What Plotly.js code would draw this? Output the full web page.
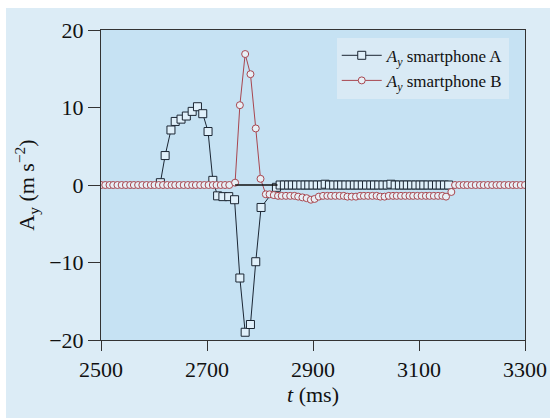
<!DOCTYPE html>
<html>
<head>
<meta charset="utf-8">
<script src="https://cdn.plot.ly/plotly-3.0.1.min.js"></script>
<style>
html,body{margin:0;padding:0;background:#ffffff;width:550px;height:418px;overflow:hidden;}
#chart{position:absolute;left:6px;top:8px;width:544px;height:410px;}
</style>
</head>
<body>
<div id="chart"></div>
<script>
// Smartphone A (squares)
const tA = [2612, 2621, 2632, 2640, 2651, 2661, 2672, 2682, 2692, 2702,
            2711, 2720, 2730, 2741, 2752, 2762, 2772, 2782, 2792, 2802,
            2831, 2838, 2846, 2854, 2861, 2869, 2877, 2885, 2892, 2900,
            2908, 2916, 2923, 2931, 2939, 2947, 2954, 2962, 2970, 2978,
            2985, 2993, 3001, 3009, 3016, 3024, 3032, 3040, 3047, 3055,
            3063, 3071, 3078, 3086, 3094, 3102, 3109, 3117, 3125, 3133,
            3140, 3148, 3156];
const aA = [0.3, 3.8, 7.1, 8.2, 8.5, 8.9, 9.5, 10.1, 9.2, 6.9,
            0.6, -1.4, -1.5, -1.5, -1.9, -12.0, -19.0, -18.0, -9.9, -2.9,
            -0.3, 0, 0, 0, 0, 0, 0, 0, 0, 0,
            0, 0, 0.1, 0, 0, 0, 0, 0, 0, 0,
            0, 0, 0, 0, 0, 0, 0, 0, 0.1, 0,
            0, 0, 0, 0, 0, 0, 0, 0, 0, 0,
            0, 0, 0];

// Smartphone B (circles)
const tB = [2500, 2508, 2516, 2523, 2531, 2539, 2547, 2555, 2562, 2570,
            2578, 2586, 2594, 2601, 2609, 2617, 2625, 2633, 2640, 2648,
            2656, 2664, 2672, 2679, 2687, 2695, 2703, 2711, 2718, 2726,
            2734, 2742, 2753, 2762, 2772, 2782, 2792, 2801, 2811, 2818,
            2826, 2834, 2841, 2849, 2857, 2865, 2872, 2880, 2888, 2896,
            2903, 2911, 2919, 2927, 2934, 2942, 2950, 2958, 2965, 2973,
            2981, 2989, 2996, 3004, 3012, 3020, 3027, 3035, 3043, 3051,
            3058, 3066, 3074, 3082, 3089, 3097, 3105, 3113, 3120, 3128,
            3136, 3144, 3151, 3161, 3168, 3176, 3184, 3191, 3199, 3207,
            3215, 3222, 3230, 3238, 3246, 3253, 3261, 3269, 3277, 3284,
            3292, 3300];
const aB = [0, 0, 0, 0, 0, 0, 0, 0, 0, 0,
            0, 0, 0, 0, 0, 0, 0, 0, 0, 0,
            0, 0, 0, 0, 0, 0, 0, 0, 0, 0,
            0, 0, 0.3, 10.3, 16.9, 14.3, 7.3, 0.8, -1.2, -1.2,
            -1.3, -1.4, -1.4, -1.4, -1.4, -1.4, -1.5, -1.6, -1.7, -1.9,
            -1.8, -1.5, -1.4, -1.4, -1.4, -1.4, -1.4, -1.4, -1.5, -1.5,
            -1.5, -1.4, -1.4, -1.4, -1.4, -1.4, -1.5, -1.5, -1.4, -1.4,
            -1.4, -1.4, -1.4, -1.4, -1.4, -1.4, -1.4, -1.4, -1.4, -1.4,
            -1.4, -1.4, -1.5, -0.9, 0, 0, 0, 0, 0, 0,
            0, 0, 0, 0, 0, 0, 0, 0, 0, 0,
            0, 0];

// Black baseline segment drawn in the original
const tSeg = [2753, 2833];
const aSeg = [0, 0];

const xTicks = [2500, 2700, 2900, 3100, 3300];
const yTicks = [-20, -10, 0, 10, 20];

const serif = "'Liberation Serif', 'Times New Roman', serif";

const traces = [
  {
    x: tA, y: aA, type: 'scatter', mode: 'lines+markers',
    name: '<i>A<sub>y</sub></i> smartphone A',
    line: {color: '#1b2633', width: 1},
    marker: {symbol: 'square', size: 8, color: '#e0f0fa', line: {color: '#1b2633', width: 1}}
  },
  {
    x: tB, y: aB, type: 'scatter', mode: 'lines+markers',
    name: '<i>A<sub>y</sub></i> smartphone B',
    line: {color: '#a8464f', width: 1},
    marker: {symbol: 'circle', size: 7, color: '#e8f0f6', line: {color: '#a8464f', width: 1}}
  },
  {
    x: tSeg, y: aSeg, type: 'scatter', mode: 'lines', showlegend: false,
    line: {color: '#111111', width: 1.6}, hoverinfo: 'skip'
  }
];

const layout = {
  width: 544, height: 410,
  margin: {l: 95, r: 25, t: 22, b: 78},
  paper_bgcolor: '#dcecf6',
  plot_bgcolor: '#c6e2f3',
  font: {family: serif, size: 22, color: '#111111'},
  showlegend: true,
  legend: {
    x: 0.556, y: 0.975, xanchor: 'left', yanchor: 'top',
    bgcolor: '#d9eaf5', borderwidth: 0, itemwidth: 40,
    font: {family: serif, size: 17, color: '#111111'},
    tracegroupgap: 0
  },
  xaxis: {
    range: [2500, 3300], tickvals: xTicks, ticktext: xTicks.map(String),
    ticks: 'outside', ticklen: 10, tickwidth: 1, tickcolor: '#333333',
    showline: true, linecolor: '#333333', linewidth: 1, mirror: true,
    showgrid: false, zeroline: false,
    tickfont: {family: serif, size: 22, color: '#111111'},
    title: {text: '<i>t</i> (ms)', font: {family: serif, size: 22, color: '#111111'}, standoff: 5}
  },
  yaxis: {
    range: [-20, 20], tickvals: yTicks, ticktext: yTicks.map(v => v < 0 ? '\u2212' + Math.abs(v) : String(v)),
    ticks: 'outside', ticklen: 12, tickwidth: 1, tickcolor: '#333333',
    showline: true, linecolor: '#333333', linewidth: 1, mirror: true,
    showgrid: false, zeroline: false,
    tickfont: {family: serif, size: 22, color: '#111111'},
    title: {text: 'A<sub>y</sub> (m s<sup>\u22122</sup>)', font: {family: serif, size: 22, color: '#111111'}, standoff: 8}
  }
};

Plotly.newPlot('chart', traces, layout, {staticPlot: true, displayModeBar: false});
</script>
</body>
</html>
